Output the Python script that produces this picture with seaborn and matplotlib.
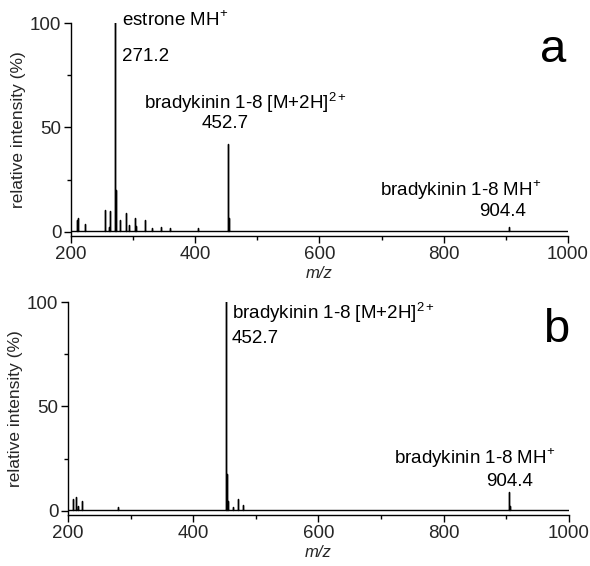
import numpy as np
import pandas as pd
import matplotlib
matplotlib.use("Agg")
import matplotlib.pyplot as plt
import seaborn as sns
from matplotlib.ticker import MultipleLocator

# ==========================================
# data: peak lists (m/z, relative intensity %)
# ==========================================
mz_a = [209.5, 211, 222.5, 254, 261.5, 263, 271.2, 272.2, 279.5, 288, 293.5,
        302.5, 305, 319, 330, 345, 360, 404, 452.7, 453.7, 904.4]
int_a = [5, 6, 3.3, 10, 2, 9.3, 100, 19.6, 5, 8.5, 3,
         6, 2.5, 5.3, 1.5, 2, 1.5, 1.5, 41.6, 6, 2]

mz_b = [208, 212.4, 216, 222.6, 279.7, 452.7, 453.7, 456, 463, 472, 479,
        904.4, 905.4]
int_b = [5, 6, 2, 4, 1.5, 100, 17, 4, 1.5, 5, 2.4, 8.5, 2]

mz_range = [200, 1000]
baseline = 0.5

SUP1 = r"$^{\mathregular{+}}$"
SUP2 = r"$^{\mathregular{2+}}$"

# labels: (text, x, y, ha)
labels_a = [("estrone MH" + SUP1, 282, 101.4, "left"),
            ("271.2", 282, 84.0, "left"),
            ("bradykinin 1-8 [M+2H]" + SUP2, 317.5, 61.7, "left"),
            ("452.7", 448, 51.7, "center"),
            ("bradykinin 1-8 MH" + SUP1, 957, 20, "right"),
            ("904.4", 894, 9.6, "center")]
labels_b = [("bradykinin 1-8 [M+2H]" + SUP2, 462, 94.7, "left"),
            ("452.7", 462, 82.3, "left"),
            ("bradykinin 1-8 MH" + SUP1, 978, 25, "right"),
            ("904.4", 904.5, 14, "center")]


def spectrum_trace(mz, inten):
    # stick peaks drawn as single vertical spikes on a flat baseline
    xs = [mz_range[0]]
    ys = [baseline]
    for m, h in sorted(zip(mz, inten)):
        xs += [m, m, m]
        ys += [baseline, baseline + h, baseline]
    xs.append(mz_range[1])
    ys.append(baseline)
    return pd.DataFrame({"mz": xs, "intensity": ys})


sns.set_theme(style="ticks")
plt.rcParams["font.family"] = ["Liberation Sans", "DejaVu Sans"]
plt.rcParams["mathtext.fontset"] = "custom"
plt.rcParams["mathtext.rm"] = "Liberation Sans"

fig = plt.figure(figsize=(5.9, 5.66), dpi=100)
ax_a = fig.add_axes([0.1203, 0.583, 0.8424, 0.3763])
ax_b = fig.add_axes([0.1153, 0.0901, 0.849, 0.3763])

panels = [(ax_a, mz_a, int_a, labels_a, "a", (976, 87)),
          (ax_b, mz_b, int_b, labels_b, "b", (980, 86.6))]

for ax, mz, inten, labels, letter, letter_pos in panels:
    df = spectrum_trace(mz, inten)
    sns.lineplot(data=df, x="mz", y="intensity", sort=False, estimator=None,
                 color="black", linewidth=1.0, ax=ax)
    ax.set_xlim(mz_range)
    ax.set_ylim(-2, 100)
    sns.despine(ax=ax)
    for s in ["left", "bottom"]:
        ax.spines[s].set_linewidth(1.0)
        ax.spines[s].set_color("black")
    ax.xaxis.set_major_locator(MultipleLocator(200))
    ax.xaxis.set_minor_locator(MultipleLocator(100))
    ax.yaxis.set_major_locator(MultipleLocator(50))
    ax.yaxis.set_minor_locator(MultipleLocator(25))
    ax.tick_params(which="major", direction="out", length=5, width=1.0,
                   labelsize=13.5, color="black", pad=2)
    ax.tick_params(which="minor", direction="out", length=3, width=1.0,
                   color="black")
    ax.set_xlabel("m/z", fontsize=12, style="italic", labelpad=2)
    ax.set_ylabel("relative intensity (%)", fontsize=12.5, labelpad=3)
    for txt, x, y, ha in labels:
        ax.text(x, y, txt, ha=ha, va="center", fontsize=13.5, color="black")
    ax.text(letter_pos[0], letter_pos[1], letter, ha="center", va="center",
            fontsize=34, color="black")

fig.savefig("out.png", dpi=100)
